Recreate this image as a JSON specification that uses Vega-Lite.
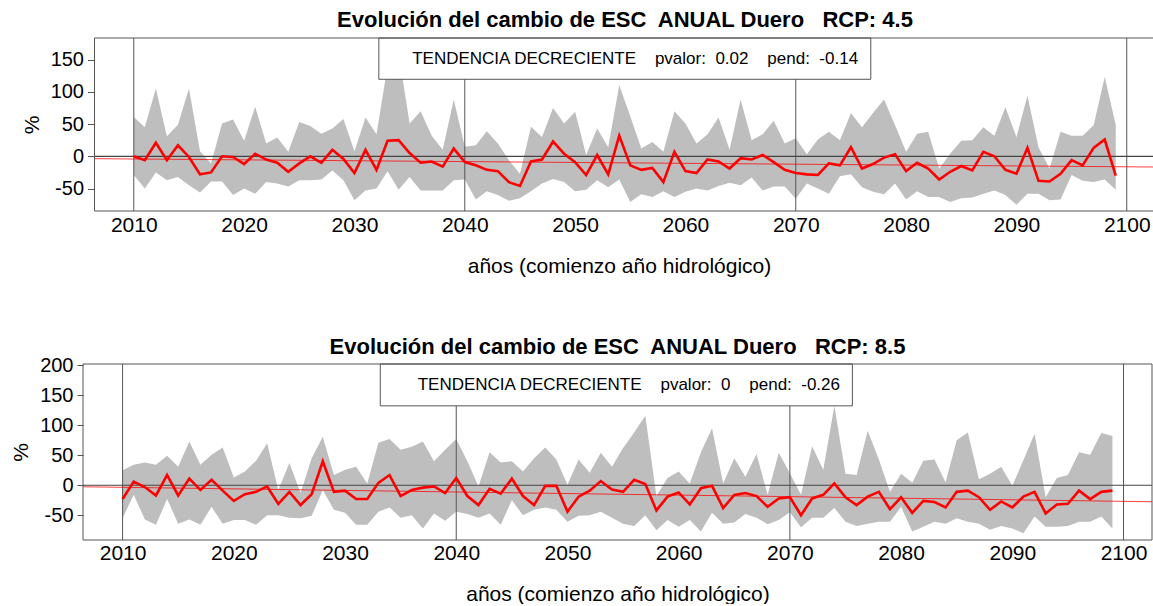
{
  "$schema": "https://vega.github.io/schema/vega-lite/v6.json",
  "background": "white",
  "padding": {"left": 10, "top": 8, "right": 0, "bottom": 0},
  "spacing": 60,
  "config": {"font": "Liberation Sans", "view": {"stroke": null}, "axis": {"grid": false, "labelOverlap": false}},
  "datasets": {
    "rcp45": [
      {"year":2010,"mean":0,"min":-29,"max":61},{"year":2011,"mean":-6,"min":-50,"max":45},{"year":2012,"mean":21,"min":-25,"max":105},{"year":2013,"mean":-6,"min":-37,"max":31},{"year":2014,"mean":17,"min":-32,"max":49},{"year":2015,"mean":-1,"min":-45,"max":105},{"year":2016,"mean":-28,"min":-56,"max":8},{"year":2017,"mean":-25,"min":-39,"max":-11},{"year":2018,"mean":0,"min":-39,"max":51},{"year":2019,"mean":-1,"min":-60,"max":57},
      {"year":2020,"mean":-12,"min":-50,"max":24},{"year":2021,"mean":4,"min":-58,"max":77},{"year":2022,"mean":-5,"min":-40,"max":20},{"year":2023,"mean":-10,"min":-42,"max":29},{"year":2024,"mean":-24,"min":-47,"max":7},{"year":2025,"mean":-11,"min":-37,"max":53},{"year":2026,"mean":0,"min":-37,"max":47},{"year":2027,"mean":-10,"min":-36,"max":35},{"year":2028,"mean":10,"min":-22,"max":43},{"year":2029,"mean":-4,"min":-37,"max":58},
      {"year":2030,"mean":-26,"min":-68,"max":8},{"year":2031,"mean":10,"min":-53,"max":60},{"year":2032,"mean":-21,"min":-50,"max":34},{"year":2033,"mean":24,"min":-23,"max":140},{"year":2034,"mean":25,"min":-52,"max":160},{"year":2035,"mean":5,"min":-32,"max":51},{"year":2036,"mean":-10,"min":-53,"max":70},{"year":2037,"mean":-8,"min":-53,"max":32},{"year":2038,"mean":-16,"min":-53,"max":10},{"year":2039,"mean":12,"min":-37,"max":88},
      {"year":2040,"mean":-9,"min":-36,"max":15},{"year":2041,"mean":-14,"min":-67,"max":17},{"year":2042,"mean":-21,"min":-54,"max":39},{"year":2043,"mean":-23,"min":-60,"max":20},{"year":2044,"mean":-40,"min":-69,"max":-6},{"year":2045,"mean":-46,"min":-65,"max":-27},{"year":2046,"mean":-8,"min":-54,"max":46},{"year":2047,"mean":-5,"min":-42,"max":30},{"year":2048,"mean":23,"min":-35,"max":75},{"year":2049,"mean":4,"min":-40,"max":51},
      {"year":2050,"mean":-9,"min":-54,"max":69},{"year":2051,"mean":-29,"min":-52,"max":2},{"year":2052,"mean":2,"min":-37,"max":43},{"year":2053,"mean":-28,"min":-48,"max":14},{"year":2054,"mean":32,"min":-36,"max":110},{"year":2055,"mean":-14,"min":-71,"max":62},{"year":2056,"mean":-21,"min":-59,"max":12},{"year":2057,"mean":-18,"min":-63,"max":22},{"year":2058,"mean":-40,"min":-54,"max":7},{"year":2059,"mean":7,"min":-63,"max":70},
      {"year":2060,"mean":-23,"min":-55,"max":51},{"year":2061,"mean":-26,"min":-50,"max":20},{"year":2062,"mean":-5,"min":-53,"max":34},{"year":2063,"mean":-8,"min":-46,"max":60},{"year":2064,"mean":-19,"min":-41,"max":10},{"year":2065,"mean":-3,"min":-45,"max":88},{"year":2066,"mean":-5,"min":-33,"max":25},{"year":2067,"mean":2,"min":-53,"max":34},{"year":2068,"mean":-9,"min":-47,"max":55},{"year":2069,"mean":-21,"min":-47,"max":20},
      {"year":2070,"mean":-26,"min":-66,"max":28},{"year":2071,"mean":-28,"min":-42,"max":3},{"year":2072,"mean":-29,"min":-50,"max":26},{"year":2073,"mean":-11,"min":-58,"max":38},{"year":2074,"mean":-14,"min":-31,"max":25},{"year":2075,"mean":14,"min":-28,"max":67},{"year":2076,"mean":-19,"min":-48,"max":45},{"year":2077,"mean":-12,"min":-55,"max":67},{"year":2078,"mean":-2,"min":-59,"max":88},{"year":2079,"mean":3,"min":-42,"max":48},
      {"year":2080,"mean":-23,"min":-67,"max":7},{"year":2081,"mean":-10,"min":-54,"max":35},{"year":2082,"mean":-19,"min":-63,"max":38},{"year":2083,"mean":-36,"min":-63,"max":-19},{"year":2084,"mean":-24,"min":-71,"max":4},{"year":2085,"mean":-15,"min":-65,"max":24},{"year":2086,"mean":-22,"min":-64,"max":25},{"year":2087,"mean":7,"min":-58,"max":45},{"year":2088,"mean":0,"min":-53,"max":32},{"year":2089,"mean":-21,"min":-60,"max":76},
      {"year":2090,"mean":-27,"min":-75,"max":30},{"year":2091,"mean":13,"min":-58,"max":94},{"year":2092,"mean":-38,"min":-58,"max":14},{"year":2093,"mean":-39,"min":-68,"max":-19},{"year":2094,"mean":-27,"min":-67,"max":38},{"year":2095,"mean":-6,"min":-29,"max":32},{"year":2096,"mean":-14,"min":-38,"max":32},{"year":2097,"mean":13,"min":-40,"max":48},{"year":2098,"mean":26,"min":-36,"max":123},{"year":2099,"mean":-30,"min":-52,"max":49}
    ],
    "rcp85": [
      {"year":2010,"mean":-23,"min":-55,"max":25},{"year":2011,"mean":6,"min":-16,"max":34},{"year":2012,"mean":-3,"min":-57,"max":38},{"year":2013,"mean":-17,"min":-66,"max":34},{"year":2014,"mean":17,"min":-23,"max":49},{"year":2015,"mean":-17,"min":-64,"max":31},{"year":2016,"mean":11,"min":-57,"max":73},{"year":2017,"mean":-8,"min":-66,"max":34},{"year":2018,"mean":9,"min":-36,"max":51},{"year":2019,"mean":-9,"min":-64,"max":63},
      {"year":2020,"mean":-26,"min":-58,"max":13},{"year":2021,"mean":-15,"min":-58,"max":23},{"year":2022,"mean":-11,"min":-66,"max":41},{"year":2023,"mean":-2,"min":-50,"max":70},{"year":2024,"mean":-31,"min":-50,"max":-8},{"year":2025,"mean":-11,"min":-54,"max":37},{"year":2026,"mean":-33,"min":-55,"max":-13},{"year":2027,"mean":-15,"min":-51,"max":45},{"year":2028,"mean":40,"min":-8,"max":81},{"year":2029,"mean":-11,"min":-41,"max":17},
      {"year":2030,"mean":-9,"min":-46,"max":26},{"year":2031,"mean":-23,"min":-66,"max":31},{"year":2032,"mean":-23,"min":-66,"max":3},{"year":2033,"mean":4,"min":-44,"max":71},{"year":2034,"mean":17,"min":-37,"max":77},{"year":2035,"mean":-18,"min":-54,"max":59},{"year":2036,"mean":-8,"min":-50,"max":64},{"year":2037,"mean":-4,"min":-72,"max":73},{"year":2038,"mean":-2,"min":-47,"max":40},{"year":2039,"mean":-13,"min":-59,"max":59},
      {"year":2040,"mean":12,"min":-44,"max":77},{"year":2041,"mean":-18,"min":-48,"max":40},{"year":2042,"mean":-33,"min":-54,"max":-2},{"year":2043,"mean":-6,"min":-47,"max":55},{"year":2044,"mean":-14,"min":-66,"max":38},{"year":2045,"mean":11,"min":-25,"max":40},{"year":2046,"mean":-18,"min":-50,"max":23},{"year":2047,"mean":-33,"min":-41,"max":45},{"year":2048,"mean":-1,"min":-37,"max":63},{"year":2049,"mean":-1,"min":-41,"max":43},
      {"year":2050,"mean":-44,"min":-61,"max":1},{"year":2051,"mean":-19,"min":-51,"max":43},{"year":2052,"mean":-9,"min":-50,"max":21},{"year":2053,"mean":7,"min":-44,"max":54},{"year":2054,"mean":-7,"min":-54,"max":31},{"year":2055,"mean":-11,"min":-64,"max":62},{"year":2056,"mean":9,"min":-68,"max":88},{"year":2057,"mean":2,"min":-50,"max":116},{"year":2058,"mean":-42,"min":-75,"max":-18},{"year":2059,"mean":-19,"min":-58,"max":12},
      {"year":2060,"mean":-12,"min":-69,"max":23},{"year":2061,"mean":-32,"min":-58,"max":3},{"year":2062,"mean":-5,"min":-77,"max":55},{"year":2063,"mean":-1,"min":-46,"max":95},{"year":2064,"mean":-38,"min":-64,"max":3},{"year":2065,"mean":-16,"min":-62,"max":45},{"year":2066,"mean":-13,"min":-48,"max":14},{"year":2067,"mean":-18,"min":-54,"max":52},{"year":2068,"mean":-36,"min":-65,"max":-16},{"year":2069,"mean":-22,"min":-58,"max":54},
      {"year":2070,"mean":-20,"min":-45,"max":20},{"year":2071,"mean":-50,"min":-70,"max":-16},{"year":2072,"mean":-22,"min":-54,"max":65},{"year":2073,"mean":-16,"min":-54,"max":26},{"year":2074,"mean":3,"min":-38,"max":132},{"year":2075,"mean":-20,"min":-61,"max":19},{"year":2076,"mean":-33,"min":-68,"max":17},{"year":2077,"mean":-19,"min":-64,"max":91},{"year":2078,"mean":-11,"min":-61,"max":43},{"year":2079,"mean":-40,"min":-61,"max":-11},
      {"year":2080,"mean":-20,"min":-36,"max":19},{"year":2081,"mean":-46,"min":-77,"max":4},{"year":2082,"mean":-26,"min":-69,"max":41},{"year":2083,"mean":-28,"min":-61,"max":43},{"year":2084,"mean":-37,"min":-64,"max":5},{"year":2085,"mean":-11,"min":-55,"max":75},{"year":2086,"mean":-9,"min":-61,"max":88},{"year":2087,"mean":-20,"min":-64,"max":10},{"year":2088,"mean":-41,"min":-74,"max":19},{"year":2089,"mean":-27,"min":-68,"max":31},
      {"year":2090,"mean":-37,"min":-72,"max":-1},{"year":2091,"mean":-19,"min":-80,"max":42},{"year":2092,"mean":-11,"min":-52,"max":86},{"year":2093,"mean":-47,"min":-69,"max":-20},{"year":2094,"mean":-32,"min":-69,"max":12},{"year":2095,"mean":-31,"min":-68,"max":17},{"year":2096,"mean":-9,"min":-61,"max":55},{"year":2097,"mean":-23,"min":-61,"max":51},{"year":2098,"mean":-11,"min":-52,"max":87},{"year":2099,"mean":-9,"min":-72,"max":82}
    ],
    "vlines": [{"year": 2010}, {"year": 2040}, {"year": 2070}, {"year": 2100}],
    "trend45": [{"year": 2006.44, "trend": -3.7}, {"year": 2102.56, "trend": -16.6}],
    "trend85": [{"year": 2006.44, "trend": -2.5}, {"year": 2102.56, "trend": -27.5}],
    "one": [{}]
  },
  "vconcat": [
    {
      "width": 1072,
      "height": 173,
      "title": {"text": "Evolución del cambio de ESC\u00a0 ANUAL Duero\u00a0\u00a0 RCP: 4.5", "fontSize": 22, "fontWeight": "bold", "font": "Liberation Sans", "color": "black", "anchor": "middle", "dx": 6, "offset": 6},
      "layer": [
        {
          "data": {"name": "rcp45"},
          "mark": {"type": "area", "color": "#bebebe", "opacity": 1},
          "encoding": {
            "x": {"field": "year", "type": "quantitative", "scale": {"domain": [2005.396, 2102.56], "nice": false, "zero": false},
                  "axis": {"values": [2010, 2020, 2030, 2040, 2050, 2060, 2070, 2080, 2090, 2100], "tickCount": 20, "format": "d", "title": "años (comienzo año hidrológico)", "titleFontSize": 21, "titleFontWeight": "normal", "titleColor": "black", "titlePadding": 20, "labelFontSize": 21, "labelColor": "black", "labelPadding": 3, "ticks": false, "domain": false, "labelFlush": false, "labelOverlap": false, "labelBound": false}},
            "y": {"field": "max", "type": "quantitative", "scale": {"domain": [-84.8, 183.4], "nice": false, "zero": false},
                  "axis": {"values": [-50, 0, 50, 100, 150], "tickCount": 20, "labelExpr": "'' + datum.value", "title": "%", "titleFontSize": 21, "titleFontWeight": "normal", "titleColor": "black", "titlePadding": 8, "labelFontSize": 20, "labelColor": "black", "labelPadding": 4, "tickSize": 7, "tickColor": "#555", "domain": false, "offset": -11.5, "labelOverlap": false}},
            "y2": {"field": "min"}
          }
        },
        {
          "data": {"name": "vlines"},
          "mark": {"type": "rule", "color": "#555", "strokeWidth": 1},
          "encoding": {"x": {"field": "year", "type": "quantitative"}}
        },
        {
          "data": {"name": "one"},
          "mark": {"type": "rule", "color": "#444", "strokeWidth": 1.2},
          "encoding": {"x": {"datum": 2006.44, "type": "quantitative"}, "x2": {"datum": 2102.56}, "y": {"datum": 0, "type": "quantitative"}}
        },
        {
          "data": {"name": "trend45"},
          "mark": {"type": "line", "color": "#ff0000", "strokeWidth": 1, "opacity": 0.75},
          "encoding": {"x": {"field": "year", "type": "quantitative"}, "y": {"field": "trend", "type": "quantitative"}}
        },
        {
          "data": {"name": "rcp45"},
          "mark": {"type": "line", "color": "#ff0000", "strokeWidth": 2.6},
          "encoding": {"x": {"field": "year", "type": "quantitative"}, "y": {"field": "mean", "type": "quantitative"}}
        },
        {
          "data": {"name": "one"},
          "mark": {"type": "rect", "fill": "white", "stroke": "#555", "strokeWidth": 1},
          "encoding": {"x": {"datum": 2032.21, "type": "quantitative"}, "x2": {"datum": 2076.8}, "y": {"datum": 119.4, "type": "quantitative"}, "y2": {"datum": 183.4}}
        },
        {
          "data": {"name": "one"},
          "mark": {"type": "text", "text": "TENDENCIA DECRECIENTE\u00a0\u00a0\u00a0\u00a0pvalor:\u00a0\u00a00.02\u00a0\u00a0\u00a0\u00a0pend:\u00a0\u00a0-0.14", "fontSize": 17, "color": "black", "align": "center", "baseline": "middle"},
          "encoding": {"x": {"datum": 2055.44, "type": "quantitative"}, "y": {"datum": 150.9, "type": "quantitative"}}
        },
        {
          "data": {"name": "one"},
          "mark": {"type": "rect", "fill": null, "fillOpacity": 0, "stroke": "#555", "strokeWidth": 1},
          "encoding": {"x": {"datum": 2006.44, "type": "quantitative"}, "x2": {"datum": 2102.56}, "y": {"datum": -84.8, "type": "quantitative"}, "y2": {"datum": 183.4}}
        }
      ]
    },
    {
      "width": 1069,
      "height": 176,
      "title": {"text": "Evolución del cambio de ESC\u00a0 ANUAL Duero\u00a0\u00a0 RCP: 8.5", "fontSize": 22, "fontWeight": "bold", "font": "Liberation Sans", "color": "black", "anchor": "middle", "offset": -4},
      "layer": [
        {
          "data": {"name": "rcp85"},
          "mark": {"type": "area", "color": "#bebebe", "opacity": 1},
          "encoding": {
            "x": {"field": "year", "type": "quantitative", "scale": {"domain": [2006.44, 2102.56], "nice": false, "zero": false},
                  "axis": {"values": [2010, 2020, 2030, 2040, 2050, 2060, 2070, 2080, 2090, 2100], "tickCount": 20, "format": "d", "title": "años (comienzo año hidrológico)", "titleFontSize": 21, "titleFontWeight": "normal", "titleColor": "black", "titlePadding": 20, "labelFontSize": 21, "labelColor": "black", "labelPadding": 2, "ticks": false, "domain": false, "labelFlush": false, "labelOverlap": false, "labelBound": false}},
            "y": {"field": "max", "type": "quantitative", "scale": {"domain": [-91.3, 202.2], "nice": false, "zero": false},
                  "axis": {"values": [-50, 0, 50, 100, 150, 200], "tickCount": 20, "labelExpr": "'' + datum.value", "title": "%", "titleFontSize": 21, "titleFontWeight": "normal", "titleColor": "black", "titlePadding": 8, "labelFontSize": 20, "labelColor": "black", "labelPadding": 4, "tickSize": 6, "tickColor": "#555", "domain": false, "labelOverlap": false, "labelBound": false}},
            "y2": {"field": "min"}
          }
        },
        {
          "data": {"name": "vlines"},
          "mark": {"type": "rule", "color": "#555", "strokeWidth": 1},
          "encoding": {"x": {"field": "year", "type": "quantitative"}}
        },
        {
          "data": {"name": "one"},
          "mark": {"type": "rule", "color": "#444", "strokeWidth": 1.2},
          "encoding": {"x": {"datum": 2006.44, "type": "quantitative"}, "x2": {"datum": 2102.56}, "y": {"datum": 0, "type": "quantitative"}}
        },
        {
          "data": {"name": "trend85"},
          "mark": {"type": "line", "color": "#ff0000", "strokeWidth": 1, "opacity": 0.75},
          "encoding": {"x": {"field": "year", "type": "quantitative"}, "y": {"field": "trend", "type": "quantitative"}}
        },
        {
          "data": {"name": "rcp85"},
          "mark": {"type": "line", "color": "#ff0000", "strokeWidth": 2.6},
          "encoding": {"x": {"field": "year", "type": "quantitative"}, "y": {"field": "mean", "type": "quantitative"}}
        },
        {
          "data": {"name": "one"},
          "mark": {"type": "rect", "fill": "white", "stroke": "#555", "strokeWidth": 1},
          "encoding": {"x": {"datum": 2033.17, "type": "quantitative"}, "x2": {"datum": 2075.62}, "y": {"datum": 132.4, "type": "quantitative"}, "y2": {"datum": 202.2}}
        },
        {
          "data": {"name": "one"},
          "mark": {"type": "text", "text": "TENDENCIA DECRECIENTE\u00a0\u00a0\u00a0\u00a0pvalor:\u00a0\u00a00\u00a0\u00a0\u00a0\u00a0pend:\u00a0\u00a0-0.26", "fontSize": 17, "color": "black", "align": "center", "baseline": "middle"},
          "encoding": {"x": {"datum": 2055.52, "type": "quantitative"}, "y": {"datum": 166.7, "type": "quantitative"}}
        },
        {
          "data": {"name": "one"},
          "mark": {"type": "rect", "fill": null, "fillOpacity": 0, "stroke": "#555", "strokeWidth": 1},
          "encoding": {"x": {"datum": 2006.44, "type": "quantitative"}, "x2": {"datum": 2102.56}, "y": {"datum": -91.3, "type": "quantitative"}, "y2": {"datum": 202.2}}
        }
      ]
    }
  ]
}
